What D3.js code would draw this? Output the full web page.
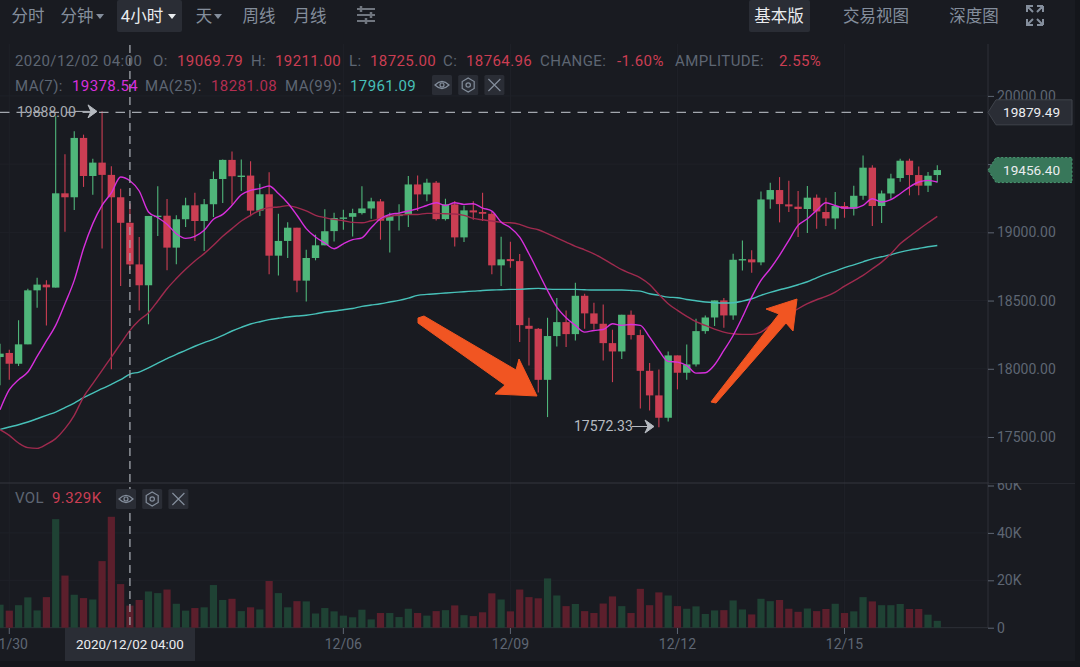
<!DOCTYPE html>
<html><head><meta charset="utf-8">
<script src="https://cdn.jsdelivr.net/npm/d3@7/dist/d3.min.js"></script>
<style>
html,body{margin:0;padding:0;background:#14161b;overflow:hidden}
svg{display:block}
text{font-family:Roboto,"Noto Sans CJK SC",sans-serif}
</style></head><body><div id="c"></div>
<script>
const opens=[18086,18116,18037,18179,18575,18617,18595,19286,19257,19692,19413,19511,19421,19257,19069.79,18765,18612,19115,19122,18888,19096,19198,19083,19206,19391,19531,19406,19416,19159,19279,18829,18937,19034,18646,18812,18905,19009,19102,19114,19141,19175,19227,19085,19119,19131,19351,19278,19364,19097,19205,18963,19161,19149,19136,18758,18804,18789,18315,18293,17919,18240,18342,18254,18535,18406,18330,18188,18127,18396,18247,17985,17805,17641,18098,17971,18032,18276,18376,18501,18391,18794,18802,18780,19241,19310,19205,19188,19171,19254,19149,19102,19193,19173,19268,19474,19193,19285,19398,19525,19420,19342,19420];
const closes=[18111,18037,18179,18575,18617,18597,19286,19257,19692,19413,19511,19421,19257,19070,18764.96,18612,19120,19122,18888,19096,19198,19083,19206,19391,19531,19411,19416,19159,19279,18829,18937,19034,18646,18812,18905,19008,19105,19109,19141,19175,19227,19085,19119,19131,19351,19278,19364,19097,19205,18963,19161,19146,19136,18758,18802,18789,18320,18293,17919,18240,18342,18254,18535,18406,18330,18188,18127,18396,18247,17985,17805,17641,18098,17971,18032,18276,18376,18501,18391,18799,18804,18780,19241,19310,19207,19190,19171,19254,19153,19102,19193,19173,19268,19474,19193,19285,19395,19525,19420,19342,19415,19456.4];
const highs=[18184,18140,18355,18587,18668,18648,19851,19572,19741,19716,19540,19888,19484,19320,19211,18966,19120,19338,19245,19125,19254,19291,19245,19445,19533,19592,19533,19521,19357,19440,19137,19074,19034,18873,18983,19169,19144,19166,19173,19337,19254,19244,19144,19205,19413,19417,19393,19376,19246,19229,19197,19227,19290,19149,18968,18931,18841,18374,18298,18374,18518,18428,18631,18550,18484,18472,18286,18396,18428,18286,18042,17995,18127,18098,18178,18367,18391,18501,18518,18843,18941,18868,19300,19364,19405,19378,19303,19339,19278,19254,19295,19222,19342,19564,19491,19307,19430,19540,19540,19483,19442,19491];
const lows=[17879,17920,18020,18179,18448,18318,18595,19005,19164,19333,19276,18881,17996,18607,18725,18428,18326,18973,18722,18766,19039,18937,18863,19113,19215,19206,19303,19118,19120,18692,18683,18812,18560,18494,18795,18905,18933,19019,18970,19131,19100,18946,18853,19014,19039,19156,19227,19087,19087,18897,18929,19092,19083,18692,18606,18740,18196,18024,17827,17646,18164,18159,18208,18293,18288,18061,17902,18071,18215,17709,17695,17572.33,17614,17849,17919,18017,18257,18313,18301,18359,18721,18704,18758,19173,19073,19149,18965,18995,19026,19046,19022,19107,19124,19239,19046,19068,19246,19371,19271,19271,19295,19366];
const volumes=[9.7,7.2,9.5,12.8,7.3,12.9,45.8,22.0,13.9,12.5,11.9,28.1,46.8,18.4,9.329,11.7,15.3,14.6,16.1,10.1,7.2,8.3,8.6,18.0,11.7,12.2,7.0,8.6,7.7,19.7,14.6,8.6,11.2,11.1,6.0,8.3,6.9,5.1,4.4,7.6,3.5,6.2,6.2,4.5,8.0,6.2,5.1,7.0,7.4,9.4,5.3,4.9,6.5,14.5,11.9,6.9,16.1,12.9,12.4,20.8,13.6,9.1,10.0,7.0,6.2,10.2,13.2,9.1,6.2,16.4,9.5,14.9,13.6,9.1,8.0,9.0,5.8,7.3,7.4,11.5,7.7,5.6,12.2,11.2,11.7,8.0,6.7,8.1,7.0,7.9,10.1,6.2,6.9,12.9,11.1,9.5,9.5,10.0,7.9,7.9,5.5,2.9];
const ma7=[17700,17847,17920,17976,18091,18204,18318,18477,18648,18881,19064,19198,19289,19406,19378.54,19303,19149,19108,19059,18990,18956,18971,19015,19096,19132,19198,19276,19308,19320,19340,19284,19215,19125,19027,18966,18922,18880,18916,18946,18960,19034,19100,19131,19141,19156,19173,19197,19217,19197,19217,19205,19210,19178,19156,19075,19034,18965,18843,18709,18574,18452,18374,18318,18269,18281,18288,18330,18318,18325,18318,18232,18134,18054,18049,18024,17968,17971,18029,18134,18244,18379,18525,18648,18733,18831,18941,19051,19100,19161,19217,19197,19178,19178,19197,19246,19222,19239,19283,19332,19369,19381,19369];
const ma25=[17554,17512,17456,17422,17417,17446,17488,17561,17659,17793,17891,17989,18086,18184,18281.08,18355,18411,18497,18587,18661,18729,18790,18844,18905,18971,19027,19083,19125,19162,19181,19186,19196,19181,19157,19125,19108,19095,19085,19073,19070,19085,19100,19117,19127,19131,19131,19139,19139,19136,19134,19124,19102,19092,19083,19073,19070,19058,19034,19019,18990,18960,18929,18897,18872,18843,18806,18765,18726,18697,18667,18618,18545,18477,18428,18384,18345,18318,18291,18269,18257,18252,18252,18269,18318,18354,18398,18440,18477,18506,18530,18562,18606,18645,18684,18733,18782,18843,18916,18970,19021,19070,19117];
const ma99=[17556,17573,17590,17610,17634,17659,17683,17715,17749,17788,17822,17854,17886,17920,17961.09,17976,18006,18042,18074,18106,18135,18165,18192,18216,18245,18277,18304,18328,18345,18360,18370,18380,18387,18392,18402,18416,18423,18433,18442,18457,18467,18477,18489,18501,18518,18538,18545,18550,18555,18560,18565,18569,18574,18577,18579,18582,18582,18587,18589,18584,18582,18582,18582,18579,18577,18577,18577,18577,18574,18569,18550,18538,18525,18521,18508,18499,18489,18484,18482,18484,18496,18513,18538,18560,18579,18596,18616,18638,18667,18694,18716,18741,18762,18784,18806,18821,18836,18855,18870,18882,18894,18904];
const priceTicks=[20000,19500,19000,18500,18000,17500];
const volTicks=[0,20,40,60];
const dateTicks=[[1,"11/30"],[37,"12/06"],[55,"12/09"],[73,"12/12"],[91,"12/15"]];
const leftTools=[["分时",28],["分钟",77],["4小时",142],["天",204],["周线",259],["月线",310]];
const rightTools=[["基本版",779],["交易视图",876],["深度图",974]];

const W=1080,H=667,UP="#4fb67a",DOWN="#cb3e53",UPV="#1f4234",DOWNV="#5c1f2c",TXT="#5e6673",TXT2="#848e9c",GRID="#1f2128",BG="#191b21";
const svg=d3.select("#c").append("svg").attr("width",W).attr("height",H);
svg.append("rect").attr("width",W).attr("height",H).attr("fill","#14161b");
svg.append("rect").attr("width",1075).attr("height",661).attr("fill",BG);

const x=d3.scaleLinear().domain([0,101]).range([0,937.3]);
const y=d3.scaleLinear().domain([17500,20000]).range([437,95.9]);
const yv=d3.scaleLinear().domain([0,60]).range([627.7,485.5]);
const vw=7.2;

// grid
const g=svg.append("g");
g.selectAll(".gh").data(priceTicks).join("line").attr("x1",0).attr("x2",988).attr("y1",d=>y(d)).attr("y2",d=>y(d)).attr("stroke",GRID);
g.selectAll(".gv").data(dateTicks).join("line").attr("x1",d=>x(d[0])).attr("x2",d=>x(d[0])).attr("y1",44).attr("y2",627).attr("stroke",GRID);
g.selectAll(".gvh").data(volTicks.slice(1,3)).join("line").attr("x1",0).attr("x2",988).attr("y1",d=>yv(d)).attr("y2",d=>yv(d)).attr("stroke",GRID);

// axes
svg.append("line").attr("x1",988).attr("x2",988).attr("y1",44).attr("y2",628).attr("stroke","#2e3138");
svg.append("line").attr("x1",0).attr("x2",1075).attr("y1",483).attr("y2",483).attr("stroke","#34373e");
svg.append("line").attr("x1",0).attr("x2",988).attr("y1",627.7).attr("y2",627.7).attr("stroke","#2e3138");
const styleAxis=a=>{a.select(".domain").remove();a.selectAll("line").attr("stroke",TXT);a.selectAll("text").attr("fill",TXT).attr("font-size",14).attr("font-family","Roboto");};
// the 19500 label sits wholly under the last-price tag in the reference, only its tick shows
svg.append("g").attr("transform","translate(988,0)").call(d3.axisRight(y).tickValues(priceTicks).tickFormat(d=>d===19500?"":d3.format(".2f")(d)).tickSize(6).tickPadding(3)).call(styleAxis);
svg.append("g").attr("transform","translate(988,0)").call(d3.axisRight(yv).tickValues(volTicks).tickFormat(d=>d?d+"K":"0").tickSize(6).tickPadding(3)).call(styleAxis);
// the 60K label is cut by the pane divider
svg.append("rect").attr("x",989).attr("y",470).attr("width",86).attr("height",13).attr("fill",BG);

// x ticks
svg.selectAll(".xt").data(dateTicks).join("line").attr("x1",d=>x(d[0])).attr("x2",d=>x(d[0])).attr("y1",628).attr("y2",634).attr("stroke",TXT);
svg.selectAll(".xl").data(dateTicks).join("text").attr("x",d=>x(d[0])).attr("y",649).attr("text-anchor","middle").attr("fill",TXT).attr("font-size",14).text(d=>d[1]);

// volume
svg.selectAll(".v").data(volumes).join("rect").attr("x",(d,i)=>x(i)-vw/2).attr("width",vw).attr("y",d=>yv(d)).attr("height",d=>yv(0)-yv(d)).attr("fill",(d,i)=>closes[i]>=opens[i]?UPV:DOWNV);

// candles
const cw=7.4;
const cg=svg.append("g");
const idx=d3.range(opens.length);
cg.selectAll(".w").data(idx).join("line").attr("x1",i=>x(i)).attr("x2",i=>x(i)).attr("y1",i=>y(highs[i])).attr("y2",i=>y(lows[i])).attr("stroke",i=>closes[i]>=opens[i]?UP:DOWN).attr("stroke-width",1.1);
cg.selectAll(".b").data(idx).join("rect").attr("x",i=>x(i)-cw/2).attr("width",cw).attr("y",i=>y(Math.max(opens[i],closes[i]))).attr("height",i=>Math.max(1.4,Math.abs(y(opens[i])-y(closes[i])))).attr("fill",i=>closes[i]>=opens[i]?UP:DOWN);

// MAs
const ln=d3.line().x((d,i)=>x(i)).y(d=>y(d)).curve(d3.curveMonotoneX);
[[ma99,"#47c0b8"],[ma25,"#9f2a4e"],[ma7,"#d72fdc"]].forEach(([a,c])=>svg.append("path").attr("d",ln(a)).attr("fill","none").attr("stroke",c).attr("stroke-width",1.4));

// crosshair
const DASH="#a3a7ae";
svg.append("line").attr("x1",0).attr("x2",985).attr("y1",y(19879.49)).attr("y2",y(19879.49)).attr("stroke",DASH).attr("stroke-width",1.2).attr("stroke-dasharray","9.5 7");
svg.append("line").attr("x1",x(14)).attr("x2",x(14)).attr("y1",45).attr("y2",627).attr("stroke",DASH).attr("stroke-width",1.3).attr("stroke-dasharray","8 5");

// high / low markers
function arrow(xs,ys){svg.append("path").attr("d",`M${xs} ${ys}h${20}M${xs+13} ${ys-6.5}l9 6.5l-9 6.5l3 -6.5z`).attr("stroke","#b7bbc1").attr("fill","#b7bbc1").attr("stroke-width",1);}
svg.append("text").attr("x",17).attr("y",116.5).attr("fill","#a8acb2").attr("font-size",14).text(d3.format(".2f")(d3.max(highs)));
arrow(75,y(d3.max(highs))+.2);
svg.append("text").attr("x",574).attr("y",431).attr("fill","#b7bbc1").attr("font-size",14).text(d3.format(".2f")(d3.min(lows)));
arrow(632,426.5);

// price tags
function tag(v,fill,stroke,dash){const yy=y(v);svg.append("path").attr("d",`M988 ${yy}l8 -12.5h76v25h-76z`).attr("fill",fill).attr("stroke",stroke).attr("stroke-dasharray",dash);
 svg.append("text").attr("x",1003).attr("y",yy+5).attr("fill","#eaecef").attr("font-size",13.6).text(d3.format(".2f")(v));}
tag(19879.49,"#2a2d35","#3f434b","none");
tag(closes[closes.length-1],"#38775a","#4a9a72","2 2");

// toolbar
svg.append("rect").attr("x",117).attr("y",0).attr("width",65).attr("height",32).attr("rx",2).attr("fill","#2a2d35");
svg.append("rect").attr("x",749).attr("y",0).attr("width",61).attr("height",32).attr("rx",2).attr("fill","#2a2d35");
const act=t=>t==="4小时"||t==="基本版";
const tools=leftTools.concat(rightTools);
svg.selectAll(".tb").data(tools).join("text").attr("x",d=>d[1]).attr("y",21.5).attr("text-anchor","middle").attr("font-size",16.5).attr("fill",d=>act(d[0])?"#eaecef":TXT2).attr("font-family",'"Noto Sans CJK SC",sans-serif').text(d=>d[0]);
[[100,TXT2],[172,"#eaecef"],[218,TXT2]].forEach(([cx,c])=>svg.append("path").attr("d",`M${cx-4} 14h8l-4 5z`).attr("fill",c));
// filter icon
const ic=svg.append("g").attr("stroke","#70767f").attr("stroke-width",2).attr("fill","none");
[9,15,21].forEach(yy=>ic.append("line").attr("x1",357).attr("x2",375).attr("y1",yy).attr("y2",yy));
[[361,6,12],[371,12,18],[366,18,24]].forEach(([xx,a,b])=>ic.append("line").attr("x1",xx).attr("x2",xx).attr("y1",a).attr("y2",b).attr("stroke-width",2.5));
// fullscreen icon
svg.append("path").attr("fill","none").attr("stroke",TXT2).attr("stroke-width",2)
 .attr("d","M1027 12v-6h6M1028 7l5 5M1043 6h-6M1043 6v6M1042 7l-5 5M1027 19v6h6M1028 24l5 -5M1043 25h-6M1043 25v-6M1042 24l-5 -5");

// headers
function seg(yy,items){items.forEach(([t,xx,c])=>svg.append("text").attr("x",xx).attr("y",yy).attr("fill",c).attr("font-size",15).attr("letter-spacing",.4).text(t));}
seg(66,[["2020/12/02 04:00",15,TXT],["O:",153,TXT],[d3.format(".2f")(opens[14]),177,DOWN],["H:",251,TXT],[d3.format(".2f")(highs[14]),275,DOWN],["L:",349,TXT],[d3.format(".2f")(lows[14]),370,DOWN],["C:",443,TXT],[d3.format(".2f")(closes[14]),466,DOWN],["CHANGE:",540,TXT],["-1.60%",617,DOWN],["AMPLITUDE:",675,TXT],["2.55%",779,DOWN]]);
seg(91,[["MA(7):",15,TXT],[d3.format(".2f")(ma7[14]),72,"#d72fdc"],["MA(25):",145,TXT],[d3.format(".2f")(ma25[14]),211,"#b32e52"],["MA(99):",285,TXT],[d3.format(".2f")(ma99[14]),350,"#47c0b8"]]);
seg(503,[["VOL",15,TXT],["9.329K",52,DOWN]]);
function btns(x0,yy){
 [0,1,2].forEach(k=>svg.append("rect").attr("x",x0+k*26.2).attr("y",yy).attr("width",20).attr("height",20).attr("rx",1.5).attr("fill","#2a2d35"));
 const cy=yy+10;
 const s=svg.append("g").attr("fill","none").attr("stroke",TXT2).attr("stroke-width",1.2);
 s.append("path").attr("d",`M${x0+3} ${cy}q7 -7 14 0q-7 7 -14 0z`);
 s.append("circle").attr("cx",x0+10).attr("cy",cy).attr("r",2);
 const cx=x0+36.2;
 s.append("path").attr("d",`M${cx} ${cy-7}l6 3.5v7l-6 3.5l-6 -3.5v-7z`);
 s.append("circle").attr("cx",cx).attr("cy",cy).attr("r",2.2);
 const dx=x0+62.4;
 s.append("path").attr("d",`M${dx-6} ${cy-6}l12 12M${dx+6} ${cy-6}l-12 12`);
}
btns(432,75);
btns(116,489);

// time tag
svg.append("rect").attr("x",65).attr("y",628).attr("width",130).attr("height",33).attr("fill","#2a2d35");
svg.append("text").attr("x",x(14)).attr("y",649).attr("text-anchor","middle").attr("fill","#eaecef").attr("font-size",13.4).text("2020/12/02 04:00");

// orange annotation arrows
const OR="#f15522";
svg.append("path").attr("fill",OR).attr("stroke",OR).attr("stroke-width",1).attr("stroke-linejoin","round")
 .attr("d","M418 318 L424 316 L516 370 L519 359 L537 396 L495 394 L505 385 L418 323 Z");
svg.append("path").attr("fill",OR).attr("stroke",OR).attr("stroke-width",1).attr("stroke-linejoin","round")
 .attr("d","M711 402 L714 398 L779 314 L766 309 L797 299 L793 331 L786 323 L716 403 Z");
</script></body></html>
